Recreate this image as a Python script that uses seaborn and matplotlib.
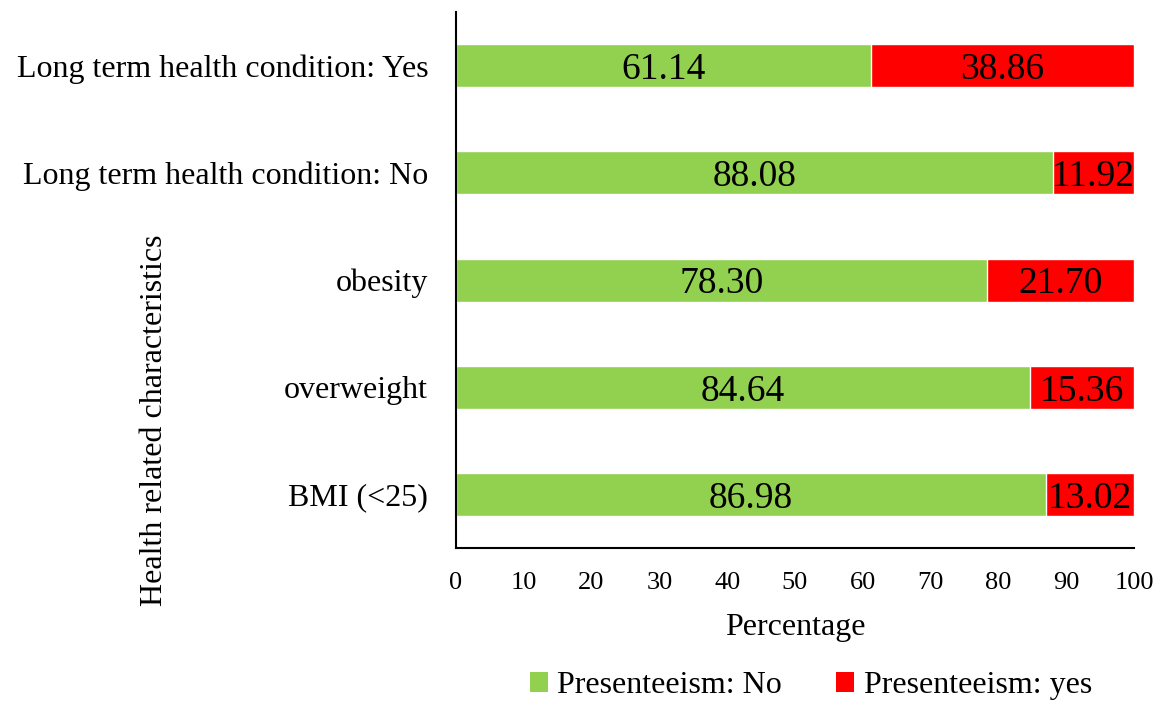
import matplotlib
matplotlib.use("Agg")
import matplotlib.pyplot as plt
from matplotlib.patches import Patch
import pandas as pd
import seaborn as sns

categories = [
    "Long term health condition: Yes",
    "Long term health condition: No",
    "obesity",
    "overweight",
    "BMI (<25)",
]
presenteeism_no = [61.14, 88.08, 78.30, 84.64, 86.98]
presenteeism_yes = [38.86, 11.92, 21.70, 15.36, 13.02]
x_ticks = [0, 10, 20, 30, 40, 50, 60, 70, 80, 90, 100]

GREEN = "#92D050"
RED = "#FF0000"

sns.set_theme(style="white")
plt.rcParams["font.family"] = ["Liberation Serif", "DejaVu Serif"]
plt.rcParams["text.color"] = "black"
plt.rcParams["axes.labelcolor"] = "black"
plt.rcParams["xtick.color"] = "black"
plt.rcParams["ytick.color"] = "black"

df = pd.DataFrame({
    "category": categories,
    "no": presenteeism_no,
    "yes": presenteeism_yes,
})
df["total"] = df["no"] + df["yes"]

fig = plt.figure(figsize=(11.72, 7.02), dpi=100)
ax = fig.add_axes([0.389, 0.219, 0.5786, 0.764])

# stacked bars: full-length red bar underneath, green share drawn over it
sns.barplot(data=df, y="category", x="total", color=RED, saturation=1,
            width=0.4, orient="h", ax=ax)
sns.barplot(data=df, y="category", x="no", color=GREEN, saturation=1,
            width=0.4, orient="h", ax=ax)

for i, (n, y) in enumerate(zip(presenteeism_no, presenteeism_yes)):
    ax.text(n / 2, i, f"{n:.2f}", ha="center", va="center_baseline",
            fontsize=27, color="black")
    ax.text(n + y / 2, i, f"{y:.2f}", ha="center", va="center_baseline",
            fontsize=27, color="black")

ax.set_xlim(0, 100)
ax.set_ylim(4.5, -0.5)
ax.set_xticks(x_ticks)
ax.set_xticklabels([str(t) for t in x_ticks], fontsize=19)
ax.tick_params(axis="y", labelsize=23, length=0, pad=20)
ax.tick_params(axis="x", length=0, pad=17)
ax.set_xlabel("Percentage", fontsize=23, labelpad=14)
ax.set_ylabel("Health related characteristics", fontsize=23)
ax.yaxis.set_label_coords(-0.423, 0.239)

for side in ("top", "right"):
    ax.spines[side].set_visible(False)
for side in ("left", "bottom"):
    ax.spines[side].set_color("black")
    ax.spines[side].set_linewidth(1.5)

handles = [Patch(facecolor=GREEN, edgecolor="none", label="Presenteeism: No"),
           Patch(facecolor=RED, edgecolor="none", label="Presenteeism: yes")]
fig.legend(handles=handles, loc="center", bbox_to_anchor=(0.692, 0.023),
           ncol=2, frameon=False, fontsize=23, handlelength=0.55, handleheight=0.55,
           handletextpad=0.3, columnspacing=1.7)

fig.savefig("out.png", dpi=100)
